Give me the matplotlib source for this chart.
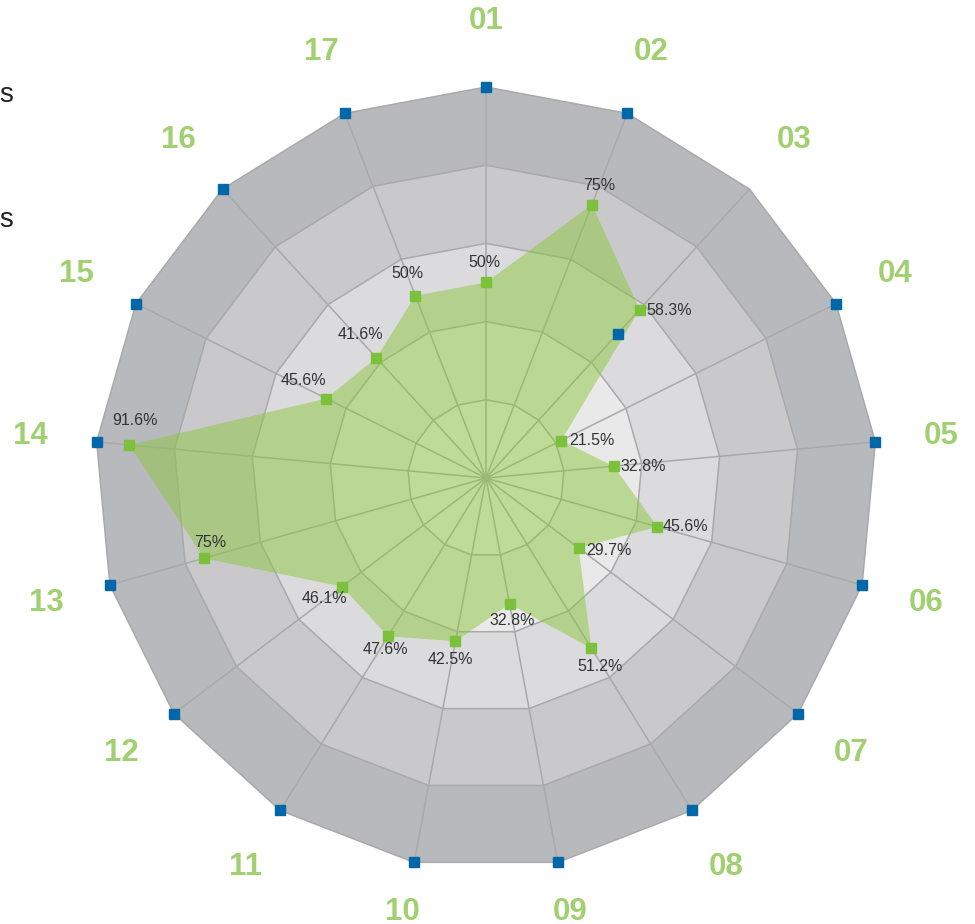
import numpy as np
import matplotlib
matplotlib.use("Agg")
import matplotlib.pyplot as plt

plt.rcParams['font.family'] = ['Liberation Sans', 'DejaVu Sans']

categories = ["01", "02", "03", "04", "05", "06", "07", "08", "09",
              "10", "11", "12", "13", "14", "15", "16", "17"]
actual = [50, 75, 58.3, 21.5, 32.8, 45.6, 29.7, 51.2, 32.8,
          42.5, 47.6, 46.1, 75, 91.6, 45.6, 41.6, 50]
target = [100, 100, 50, 100, 100, 100, 100, 100, 100,
          100, 100, 100, 100, 100, 100, 100, 100]
value_text = ["50%", "75%", "58.3%", "21.5%", "32.8%", "45.6%", "29.7%", "51.2%", "32.8%",
              "42.5%", "47.6%", "46.1%", "75%", "91.6%", "45.6%", "41.6%", "50%"]
legend_names = ["Actual values", "Target values"]

ring_levels = [100, 80, 60, 40, 20]
band_colors = ["#b8b9bc", "#c9c9cb", "#dbdbdd", "#e9e9ea", "#f1f1f1"]

# label offsets (pixels) and alignment, roughly how the original placed them
lab_off = [(-2, 20, 'center'), (7, 19, 'center'), (7, -1, 'left'), (8, 0, 'left'),
           (7, 0, 'left'), (5, 0, 'left'), (8, -3, 'left'), (9, -18, 'center'),
           (3, -16, 'center'), (-5, -18, 'center'), (-3, -13, 'center'),
           (-18, -12, 'center'), (6, 16, 'center'), (6, 24, 'center'),
           (-23, 18, 'center'), (-16, 23, 'center'), (-8, 22, 'center')]

n = len(categories)
theta = 2 * np.pi * np.arange(n) / n


def xy(r):
    r = np.asarray(r, dtype=float)
    return r * np.sin(theta), r * np.cos(theta)


fig = plt.figure(figsize=(9.75, 9.24), dpi=100)
ax = fig.add_axes([0, 0, 1, 1])
scale = 3.91  # px per unit
ax.set_xlim(-486 / scale, (975 - 486) / scale)
ax.set_ylim(-(924 - 478) / scale, 478 / scale)
ax.axis('off')

# background bands
for lev, col in zip(ring_levels, band_colors):
    bx, by = xy([lev] * n)
    ax.fill(bx, by, color=col, lw=0, zorder=1)

# grid rings + spokes
for lev in ring_levels:
    bx, by = xy([lev] * n)
    ax.plot(np.append(bx, bx[0]), np.append(by, by[0]), color='#a9a9ab', lw=1.1, zorder=2)
ox, oy = xy([100] * n)
for i in range(n):
    ax.plot([0, ox[i]], [0, oy[i]], color='#a9a9ab', lw=1.1, zorder=2)

# actual series
axx, axy = xy(actual)
ax.fill(axx, axy, color='#8dc63f', alpha=0.5, lw=0, zorder=3)
ax.plot(axx, axy, ls='none', marker='s', ms=7, color='#7cc13c', zorder=5)

# target series (markers only)
tx, ty = xy(target)
ax.plot(tx, ty, ls='none', marker='s', ms=7, color='#0068a8', zorder=5)

for i in range(n):
    dx, dy, ha = lab_off[i]
    ax.annotate(value_text[i], (axx[i], axy[i]), xytext=(dx, dy), textcoords='offset pixels',
                ha=ha, va='center', fontsize=11.5, color='#333333', zorder=6)

# category labels around the outside (bottom ones pushed up to stay inside)
for i in range(n):
    lx = 116.9 * np.sin(theta[i])
    ly = max(116.9 * np.cos(theta[i]), -111.0)
    ax.text(lx, ly, categories[i], ha='center', va='center', fontsize=22.5,
            fontweight='bold', color='#a0d070', zorder=6)

# legend (cut off at the left edge in the original)
ax.text((14 - 486) / scale, (478 - 102) / scale, legend_names[0], ha='right', va='baseline',
        fontsize=20, color='#222222')
ax.text((14 - 486) / scale, (478 - 227) / scale, legend_names[1], ha='right', va='baseline',
        fontsize=20, color='#222222')

fig.savefig('out.png', dpi=100)
